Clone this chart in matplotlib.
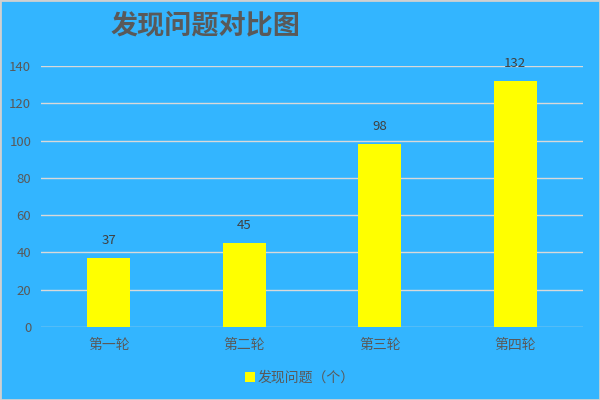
import matplotlib
matplotlib.use("Agg")
import matplotlib.pyplot as plt
from matplotlib.patches import Rectangle

plt.rcParams['font.family'] = ['Noto Sans CJK SC', 'DejaVu Sans']

categories = ["第一轮", "第二轮", "第三轮", "第四轮"]
values = [37, 45, 98, 132]
series_name = "发现问题（个）"
title = "发现问题对比图"

bg = "#33B5FF"
txt = "#595959"

fig = plt.figure(figsize=(6, 4), dpi=100, facecolor=bg)
fig.patches.append(Rectangle((0, 0), 1, 1, transform=fig.transFigure,
                             fill=False, edgecolor="#D0D0D0", linewidth=2))
ax = fig.add_axes([41/600, 1-327/400, 542/600, (327-66)/400])
ax.set_facecolor(bg)
x = range(len(categories))
bars = ax.bar(x, values, width=0.32, color="#FFFF00", label=series_name, zorder=3)
ax.set_xlim(-0.5, 3.5)
ax.set_ylim(0, 140)
ax.set_yticks(range(0, 141, 20))
ax.yaxis.grid(True, color="#D9D9D9", linewidth=1, zorder=0)
for s in ax.spines.values():
    s.set_visible(False)
ax.tick_params(axis='both', length=0, colors=txt, labelsize=9.5)
ax.tick_params(axis='x', labelsize=10)
ax.tick_params(axis='y', pad=7)
ax.tick_params(axis='x', pad=8)
ax.set_xticks(list(x))
ax.set_xticklabels(categories)
for b, v in zip(bars, values):
    ax.annotate(str(v), (b.get_x() + b.get_width()/2, v), xytext=(0, 8),
                textcoords="offset points", ha="center", va="bottom",
                color="#404040", fontsize=9.5)
fig.text(205/600, 1-25/400, title, ha="center", va="center", fontsize=19.5,
         fontweight="bold", color=txt)
leg = fig.legend(loc="center", bbox_to_anchor=(300/600, 1-378/400), frameon=False,
                 fontsize=10, handlelength=0.7, handleheight=0.7, handletextpad=0.2)
for t in leg.get_texts():
    t.set_color(txt)
fig.savefig("out.png", dpi=100, facecolor=bg)
